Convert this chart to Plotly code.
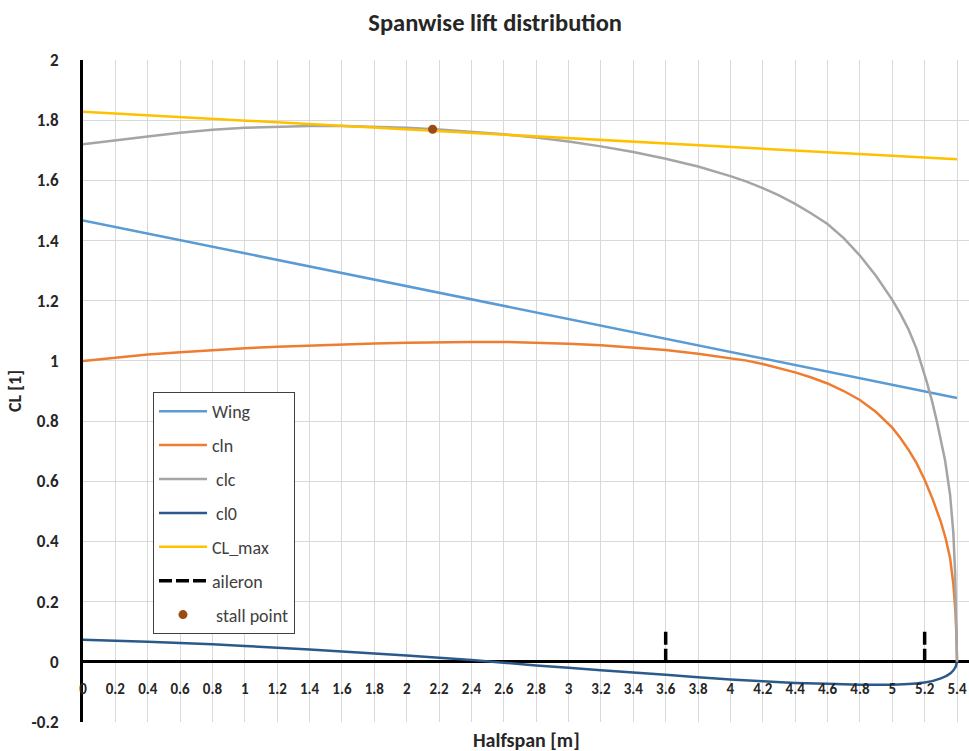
import plotly.graph_objects as go

# ---------------- data ----------------
x_wing = [0, 5.4]
wing = [1.467, 0.877]

x_clmax = [0, 5.4]
cl_max = [1.828, 1.670]

x_cln = [0, 0.2, 0.4, 0.6, 0.8, 1.0, 1.2, 1.4, 1.6, 1.8, 2.0, 2.2, 2.4, 2.6, 2.8, 3.0,
         3.2, 3.4, 3.6, 3.8, 4.0, 4.1, 4.2, 4.3, 4.4, 4.5, 4.6, 4.7, 4.8, 4.9, 5.0, 5.05,
         5.1, 5.15, 5.2, 5.25, 5.3, 5.33, 5.357, 5.377, 5.39, 5.397, 5.4]
cln = [1.0, 1.011, 1.021, 1.029, 1.036, 1.042, 1.047, 1.051, 1.055, 1.058, 1.060, 1.062,
       1.063, 1.063, 1.061, 1.057, 1.052, 1.045, 1.036, 1.024, 1.010, 1.001, 0.990, 0.977,
       0.962, 0.945, 0.925, 0.900, 0.870, 0.830, 0.778, 0.744, 0.705, 0.660, 0.605, 0.540,
       0.465, 0.410, 0.345, 0.260, 0.170, 0.080, 0.0]

x_clc = [0, 0.2, 0.4, 0.6, 0.8, 1.0, 1.2, 1.4, 1.6, 1.8, 2.0, 2.2, 2.4, 2.6, 2.8, 3.0, 3.2,
         3.4, 3.6, 3.8, 4.0, 4.1, 4.2, 4.3, 4.4, 4.5, 4.6, 4.7, 4.8, 4.9, 5.0, 5.05, 5.1,
         5.15, 5.213, 5.245, 5.275, 5.3, 5.326, 5.357, 5.377, 5.388, 5.395, 5.4]
clc = [1.72, 1.734, 1.746, 1.758, 1.768, 1.775, 1.779, 1.781, 1.781, 1.779, 1.775, 1.769,
       1.762, 1.753, 1.742, 1.729, 1.713, 1.694, 1.672, 1.646, 1.614, 1.596, 1.574, 1.550,
       1.522, 1.490, 1.455, 1.408, 1.350, 1.282, 1.203, 1.157, 1.105, 1.040, 0.930, 0.868,
       0.800, 0.740, 0.670, 0.556, 0.430, 0.300, 0.170, 0.0]

x_cl0 = [0, 0.4, 0.8, 1.2, 1.6, 2.0, 2.4, 2.8, 3.2, 3.6, 4.0, 4.4, 4.8, 5.0, 5.2, 5.3,
         5.36, 5.39, 5.4]
cl0 = [0.073, 0.067, 0.058, 0.047, 0.034, 0.021, 0.006, -0.012, -0.028, -0.043, -0.059,
       -0.070, -0.076, -0.076, -0.069, -0.055, -0.038, -0.018, 0.0]

aileron_x = [3.6, 5.2]
aileron_top = 0.1

stall_x = [2.16]
stall_y = [1.77]

x_tick_vals = [0, 0.2, 0.4, 0.6, 0.8, 1.0, 1.2, 1.4, 1.6, 1.8, 2.0, 2.2, 2.4, 2.6, 2.8,
               3.0, 3.2, 3.4, 3.6, 3.8, 4.0, 4.2, 4.4, 4.6, 4.8, 5.0, 5.2, 5.4]
x_tick_text = ["0", "0.2", "0.4", "0.6", "0.8", "1", "1.2", "1.4", "1.6", "1.8", "2",
               "2.2", "2.4", "2.6", "2.8", "3", "3.2", "3.4", "3.6", "3.8", "4", "4.2",
               "4.4", "4.6", "4.8", "5", "5.2", "5.4"]
y_tick_vals = [-0.2, 0, 0.2, 0.4, 0.6, 0.8, 1.0, 1.2, 1.4, 1.6, 1.8, 2.0]
y_tick_text = ["-0.2", "0", "0.2", "0.4", "0.6", "0.8", "1", "1.2", "1.4", "1.6", "1.8", "2"]

FONT = "Carlito, Lato, 'Open Sans', sans-serif"

fig = go.Figure()

def line_trace(x, y, name, color, group, shape="linear"):
    return go.Scatter(x=x, y=y, mode="lines", name=name, legendgroup=group,
                      line=dict(color=color, width=2.5, shape=shape, smoothing=0.5))

fig.add_trace(line_trace(x_wing, wing, "Wing", "#5B9BD5", "g1"))
fig.add_trace(line_trace(x_cln, cln, "cln", "#ED7D31", "g2"))
fig.add_trace(line_trace(x_clc, clc, "\u00a0clc", "#A5A5A5", "g3"))
fig.add_trace(line_trace(x_cl0, cl0, "\u00a0cl0", "#2B5A8A", "g4", "spline"))
fig.add_trace(line_trace(x_clmax, cl_max, "CL_max", "#FFC000", "g5"))

ax, ay = [], []
for xa in aileron_x:
    ax += [xa, xa, None]
    ay += [aileron_top, 0, None]
fig.add_trace(go.Scatter(x=ax, y=ay, mode="lines", name="aileron", legendgroup="g6",
                         line=dict(color="black", width=3.5, dash="13px,4px")))

fig.add_trace(go.Scatter(x=stall_x, y=stall_y, mode="markers", name="\u00a0stall point",
                         legendgroup="g7",
                         marker=dict(color="#9C4A14", size=9)))

fig.update_layout(
    width=969, height=751,
    margin=dict(l=83, r=0, t=60, b=29),
    paper_bgcolor="white", plot_bgcolor="white",
    font=dict(family=FONT, color="#262626"),
    title=dict(text="<b>Spanwise lift distribution</b>", x=0.511, xanchor="center",
               y=1 - 22 / 751, yanchor="middle", xref="container", yref="container",
               font=dict(size=24.5, color="#262626", family=FONT)),
    showlegend=True,
    legend=dict(x=0.079, y=0.4985, xanchor="left", yanchor="top",
                bordercolor="#404040", borderwidth=1, bgcolor="white",
                font=dict(size=18, color="#404040", family=FONT),
                tracegroupgap=7.5, itemwidth=48),
    xaxis=dict(range=[0, 5.474], tickvals=x_tick_vals, ticktext=x_tick_text,
               showgrid=True, gridcolor="#D9D9D9", gridwidth=1,
               zeroline=False, showline=False,
               anchor="free", position=0.2 / 2.2,
               ticks="", ticklabelstandoff=16,
               tickfont=dict(size=15, color="#262626", family=FONT, weight="bold")),
    yaxis=dict(range=[-0.2, 2.0], tickvals=y_tick_vals, ticktext=y_tick_text,
               showgrid=True, gridcolor="#D9D9D9", gridwidth=1,
               zeroline=True, zerolinecolor="black", zerolinewidth=2.5,
               showline=True, linecolor="black", linewidth=3,
               ticks="", ticklabelstandoff=18,
               tickfont=dict(size=17, color="#262626", family=FONT, weight="bold")),
    annotations=[
        dict(text="<b>Halfspan [m]</b>", x=0.5, y=-18 / 662, xref="paper", yref="paper",
             xanchor="center", yanchor="middle", showarrow=False,
             font=dict(size=20, color="#262626", family=FONT)),
        dict(text="<b>CL [1]</b>", x=-68 / 886, y=0.5, xref="paper", yref="paper",
             xanchor="center", yanchor="middle", showarrow=False, textangle=-90,
             font=dict(size=18, color="#262626", family=FONT)),
    ],
)

fig.write_html("out.html")
